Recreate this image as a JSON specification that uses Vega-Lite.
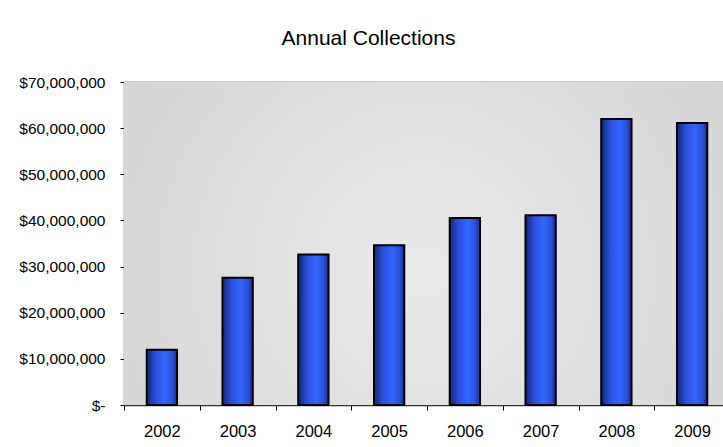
{
  "$schema": "https://vega.github.io/schema/vega-lite/v6.json",
  "width": 599,
  "height": 323,
  "autosize": "none",
  "padding": {"left": 124, "top": 82, "right": 0, "bottom": 42},
  "background": "white",
  "title": {
    "text": "Annual Collections",
    "font": "Liberation Sans",
    "fontSize": 21,
    "fontWeight": "normal",
    "color": "black",
    "anchor": "middle",
    "baseline": "alphabetic",
    "dx": -55,
    "offset": 9
  },
  "config": {
    "view": {"stroke": null},
    "axis": {"labelFont": "Liberation Sans", "labelColor": "black"}
  },
  "datasets": {
    "collections": [
      {"year": "2002", "amount": 12000000},
      {"year": "2003", "amount": 27600000},
      {"year": "2004", "amount": 32600000},
      {"year": "2005", "amount": 34600000},
      {"year": "2006", "amount": 40500000},
      {"year": "2007", "amount": 41100000},
      {"year": "2008", "amount": 62000000},
      {"year": "2009", "amount": 61100000}
    ]
  },
  "layer": [
    {
      "data": {"values": [{"panel": "plot"}]},
      "mark": {
        "type": "rect",
        "color": {
          "gradient": "radial",
          "x1": 0.5, "y1": 0.55, "r1": 0,
          "x2": 0.5, "y2": 0.55, "r2": 0.75,
          "stops": [
            {"offset": 0, "color": "#ebebeb"},
            {"offset": 1, "color": "#cfcfcf"}
          ]
        }
      },
      "encoding": {}
    },
    {
      "data": {"name": "collections"},
      "mark": {
        "type": "bar",
        "width": {"band": 0.4},
        "stroke": "black",
        "strokeWidth": 2,
        "color": {
          "gradient": "linear",
          "x1": 0, "y1": 0, "x2": 1, "y2": 0,
          "stops": [
            {"offset": 0, "color": "#15257a"},
            {"offset": 0.3, "color": "#2a50dd"},
            {"offset": 0.6, "color": "#3366ff"},
            {"offset": 0.85, "color": "#2a4fd6"},
            {"offset": 1, "color": "#182c88"}
          ]
        }
      },
      "encoding": {
        "x": {
          "field": "year",
          "type": "ordinal",
          "scale": {"range": [0, 606], "paddingInner": 0, "paddingOuter": 0},
          "axis": {
            "title": null,
            "labelAngle": 0,
            "labelFontSize": 16.5,
            "labelBaseline": "alphabetic",
            "labelPadding": 26,
            "tickBand": "extent",
            "tickSize": 5,
            "tickColor": "black",
            "domainColor": "#333333",
            "domainWidth": 1.5
          }
        },
        "y": {
          "field": "amount",
          "type": "quantitative",
          "scale": {"domain": [0, 70000000], "nice": false},
          "axis": {
            "title": null,
            "values": [0, 10000000, 20000000, 30000000, 40000000, 50000000, 60000000, 70000000],
            "labelExpr": "datum.value == 0 ? '$-\u00a0\u00a0\u00a0\u00a0\u00a0' : '$' + format(datum.value, ',')",
            "labelFontSize": 15.5,
            "labelPadding": 15,
            "tickSize": 4,
            "tickColor": "black",
            "domainColor": "#666666",
            "domainWidth": 1.5,
            "grid": true,
            "gridColor": {"condition": {"test": "datum.value == 70000000", "value": "#999999"}, "value": "#222222"},
            "gridWidth": {"condition": {"test": "datum.value == 70000000", "value": 2}, "value": 1},
            "gridOpacity": 1
          }
        }
      }
    }
  ]
}
